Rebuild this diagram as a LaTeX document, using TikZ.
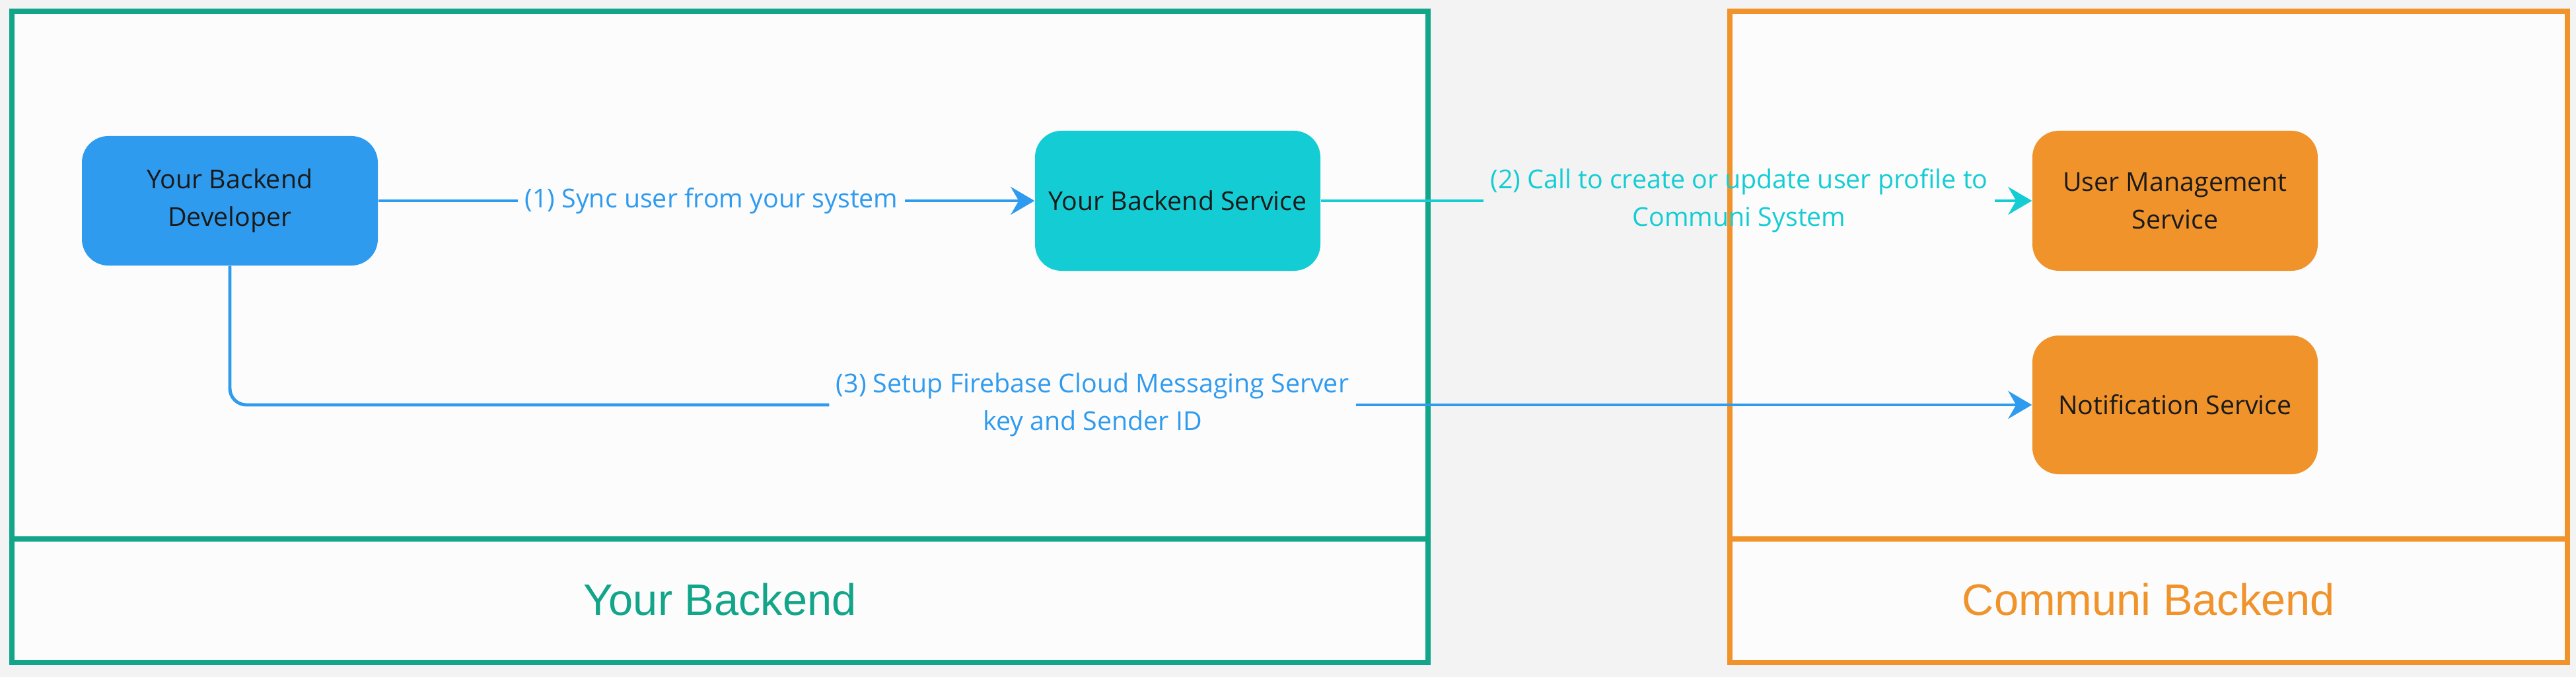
\documentclass[tikz,border=0pt]{standalone}
\usepackage{fontspec}
\setmainfont{Open Sans}
\newfontfamily\bandfont{Liberation Sans}
\usepackage{tikz}
\usetikzlibrary{arrows.meta}
\definecolor{pagegray}{HTML}{F3F3F3}
\definecolor{panelwhite}{HTML}{FCFCFC}
\definecolor{ybgreen}{HTML}{12A58A}
\definecolor{cborange}{HTML}{F0932B}
\definecolor{devblue}{HTML}{2F9BEF}
\definecolor{svccyan}{HTML}{14CDD4}
\definecolor{boxtext}{HTML}{1A1A1A}

\begin{document}
\begin{tikzpicture}[
  svcbox/.style={rounded corners=0.4cm, minimum width=4.32cm, minimum height=2.12cm, align=center, text=boxtext, font=\fontsize{11.2}{16.2}\selectfont},
  flowline/.style={line width=1.4pt},
  flowarrow/.style={line width=1.4pt, -{Stealth[length=0.36cm,width=0.42cm,inset=0.12cm]}},
  flowlabel/.style={align=center, inner sep=0.1cm, font=\fontsize{11.2}{16.2}\selectfont},
  bandlabel/.style={font=\bandfont\fontsize{19}{22}\selectfont}]
\fill[pagegray] (0,0) rectangle (39,-10.25);
\useasboundingbox (0,0) rectangle (39,-10.25);

\draw[line width=2.2pt, draw=ybgreen, fill=panelwhite] (0.18,-0.17) rectangle (21.62,-10.03);
\draw[line width=2.2pt, ybgreen] (0.18,-8.16) -- (21.62,-8.16);
\draw[line width=2.2pt, draw=cborange, fill=panelwhite] (26.19,-0.17) rectangle (38.87,-10.03);
\draw[line width=2.2pt, cborange] (26.19,-8.16) -- (38.87,-8.16);

\node [bandlabel, text=ybgreen] (yb) at (10.90,-9.08) {Your Backend};
\node [bandlabel, text=cborange] (cb) at (32.53,-9.08) {Communi Backend};

\node [svcbox, fill=devblue, minimum width=4.48cm, minimum height=1.96cm] (dev) at (3.48,-3.04) {Your Backend\\Developer};
\node [svcbox, fill=svccyan] (svc) at (17.83,-3.04) {Your Backend Service};
\node [svcbox, fill=cborange] (usr) at (32.93,-3.04) {User Management\\Service};
\node [svcbox, fill=cborange, minimum height=2.10cm] (ntf) at (32.93,-6.13) {Notification Service};

\node [flowlabel, text=devblue] (l1) at (10.77,-3.04) {(1) Sync user from your system};
\node [flowlabel, text=svccyan] (l2) at (26.33,-3.04) {(2) Call to create or update user profile to\\Communi System};
\node [flowlabel, text=devblue] (l3) at (16.54,-6.13) {(3) Setup Firebase Cloud Messaging Server\\key and Sender ID};

\draw[flowline, devblue] (dev.east) -- (l1.west);
\draw[flowarrow, devblue] (l1.east) -- (svc.west);
\draw[flowline, svccyan] (svc.east) -- (l2.west);
\draw[flowarrow, svccyan] (l2.east) -- (usr.west);
\draw[flowline, devblue, rounded corners=0.25cm] (dev.south) |- (l3.west);
\draw[flowarrow, devblue] (l3.east) -- (ntf.west);
\end{tikzpicture}
\end{document}
